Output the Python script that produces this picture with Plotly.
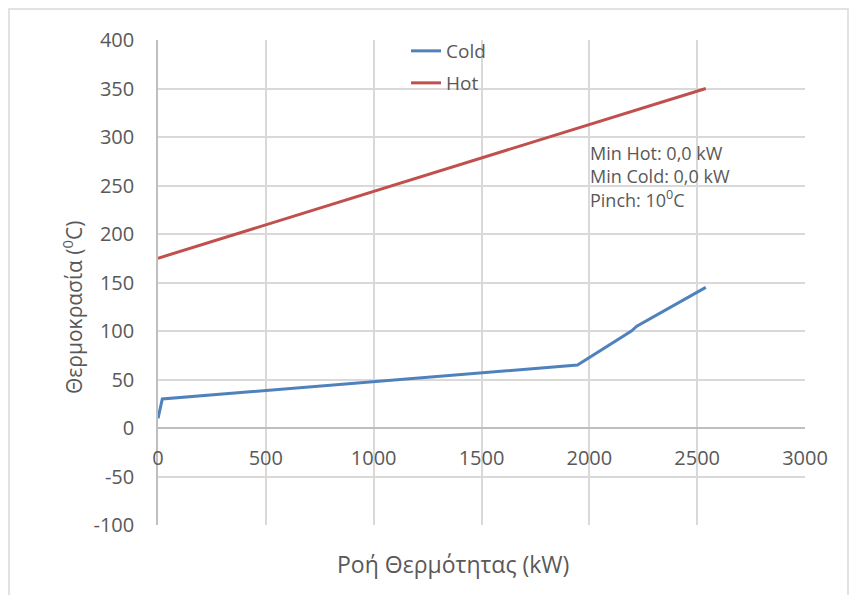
import plotly.graph_objects as go

# Composite curves (heat flow in kW, temperature in °C)
cold_q = [0, 20, 1945, 2195, 2220, 2540]
cold_t = [10, 30, 65, 100, 105, 145]
hot_q = [0, 2540]
hot_t = [175, 350]

x_ticks = [0, 500, 1000, 1500, 2000, 2500, 3000]
y_ticks = [-100, -50, 0, 50, 100, 150, 200, 250, 300, 350, 400]
y_tick_text = [str(v) for v in y_ticks]

W, H = 850, 595
ML, MR, MT, MB = 158, 45, 40, 70

text_col = "#595959"
grid_col = "#d9d9d9"
font_family = "Open Sans, Noto Sans, sans-serif"

fig = go.Figure()
fig.add_trace(go.Scatter(x=cold_q, y=cold_t, mode="lines", name="Cold", showlegend=True,
                         line=dict(color="#4f81bd", width=3), legend="legend"))
fig.add_trace(go.Scatter(x=hot_q, y=hot_t, mode="lines", name="Hot", showlegend=True,
                         line=dict(color="#c0504d", width=3), legend="legend2"))

pw = W - ML - MR
ph = H - MT - MB


def px_x(p):
    return (p - ML) / pw


def px_y(p):
    return 1 - (p - MT) / ph


legend_common = dict(bgcolor="rgba(0,0,0,0)", borderwidth=0,
                     font=dict(family=font_family, size=19, color=text_col),
                     xanchor="left", yanchor="middle", itemwidth=30)

fig.update_layout(
    width=W, height=H,
    margin=dict(l=ML, r=MR, t=MT, b=MB),
    paper_bgcolor="white", plot_bgcolor="white",
    font=dict(family=font_family, color=text_col),
    showlegend=True,
    legend=dict(x=px_x(406), y=px_y(51), **legend_common),
    legend2=dict(x=px_x(406), y=px_y(83), **legend_common),
    xaxis=dict(range=[0, 3000], tickvals=x_ticks, showgrid=True, gridcolor=grid_col,
               gridwidth=1.5, zeroline=False, showline=True, linecolor="#bfbfbf", linewidth=1.5,
               anchor="free", position=0.2, ticks="", ticklabelstandoff=12,
               tickfont=dict(size=20, color=text_col)),
    yaxis=dict(range=[-100, 400], tickvals=y_ticks, ticktext=y_tick_text, showgrid=True,
               gridcolor=grid_col, gridwidth=1.5, zeroline=False, showline=True,
               linecolor="#bfbfbf", linewidth=1.5,
               ticks="", ticklabelstandoff=18, tickfont=dict(size=20, color=text_col)),
    shapes=[
        # chart area border
        dict(type="rect", xref="paper", yref="paper",
             x0=px_x(9), x1=px_x(848), y0=px_y(9), y1=px_y(600),
             line=dict(color="#d9d9d9", width=1.5), layer="below"),
    ],
    annotations=[
        dict(text="Ροή Θερμότητας (kW)", xref="paper", yref="paper",
             x=px_x(453), y=px_y(564), showarrow=False,
             font=dict(size=23, color=text_col), xanchor="center", yanchor="middle"),
        dict(text="Θερμοκρασία (<sup>0</sup>C)", xref="paper", yref="paper",
             x=px_x(72), y=px_y(307), showarrow=False, textangle=-90,
             font=dict(size=21, color=text_col), xanchor="center", yanchor="middle"),
        dict(text="Min Hot: 0,0 kW<br>Min Cold: 0,0 kW<br>Pinch: 10<sup>0</sup>C",
             xref="paper", yref="paper", x=px_x(588), y=px_y(139), showarrow=False,
             align="left", xanchor="left", yanchor="top",
             font=dict(size=18, color=text_col)),
    ],
)

fig.write_html("out.html")
